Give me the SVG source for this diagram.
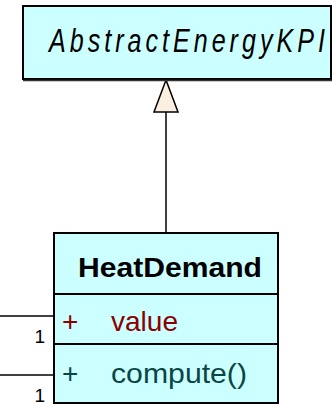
<svg xmlns="http://www.w3.org/2000/svg" width="332" height="406" viewBox="0 0 332 406">
<style>
.box{fill:#CCFFFF;stroke:#000;stroke-width:2}
.div{stroke:#000;stroke-width:2}
.edge{stroke:#000;stroke-width:1.5;fill:none}
.t{font-family:"Liberation Sans",Arial,sans-serif}
.red{fill:#8B0000}
.teal{fill:#0A4646}
</style>
<rect width="332" height="406" fill="#fff"/>
<g id="connectors">
<line class="edge" x1="166" y1="232" x2="166" y2="112"/>
<polygon points="166,80 154,112 178,112" fill="#FBF0E0" stroke="#000" stroke-width="1.5"/>
<line class="edge" x1="0" y1="316" x2="53" y2="316"/>
<line class="edge" x1="0" y1="375" x2="53" y2="375"/>
<text class="t" x="45" y="343" font-size="19" text-anchor="end" fill="#000">1</text>
<text class="t" x="45" y="402" font-size="19" text-anchor="end" fill="#000">1</text>
</g>
<g id="AbstractEnergyKPI">
<rect class="box" x="23" y="6" width="308" height="73"/>
<line x1="23" y1="80.5" x2="332" y2="80.5" stroke="#333" stroke-width="1.5"/>
<text class="t" transform="translate(49,52) scale(0.76,1)" x="0" y="0" font-size="33" font-style="italic" textLength="363" lengthAdjust="spacing">AbstractEnergyKPI</text>
</g>
<g id="HeatDemand">
<rect class="box" x="54" y="233" width="224" height="170"/>
<line class="div" x1="54" y1="294" x2="278" y2="294"/>
<line class="div" x1="54" y1="344" x2="278" y2="344"/>
<text class="t" x="78" y="277" font-size="28" font-weight="bold" textLength="184" lengthAdjust="spacingAndGlyphs">HeatDemand</text>
<text class="t red" x="62" y="331" font-size="28">+</text>
<text class="t red" x="111" y="331" font-size="28" textLength="67" lengthAdjust="spacingAndGlyphs">value</text>
<text class="t teal" x="62" y="383" font-size="28">+</text>
<text class="t teal" x="111" y="383" font-size="28" textLength="136" lengthAdjust="spacingAndGlyphs">compute()</text>
</g>
</svg>
